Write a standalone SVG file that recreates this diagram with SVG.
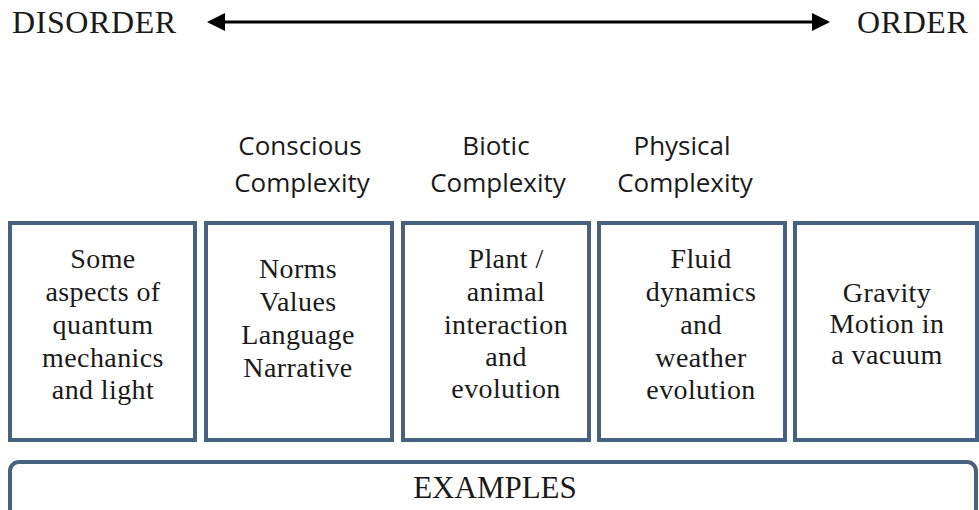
<svg xmlns="http://www.w3.org/2000/svg" width="979" height="510" viewBox="0 0 979 510">
<defs>
<style>
.bg{fill:#ffffff}
.box{fill:#ffffff;stroke:#46627f;stroke-width:4}
.t{font-family:"Liberation Serif","DejaVu Serif",serif;font-size:28px;letter-spacing:0.4px;fill:#1a1a1a;text-anchor:middle}
.title{font-family:"Liberation Serif","DejaVu Serif",serif;font-size:32px;letter-spacing:0.6px;fill:#1a1a1a}
.hdr{font-family:"Open Sans","Liberation Sans",sans-serif;font-size:26px;fill:#1a1a1a;text-anchor:middle}
.arrow{stroke:#000;stroke-width:3;fill:none}
</style>
<marker id="ah" markerWidth="6" markerHeight="6" refX="5" refY="3" orient="auto-start-reverse" markerUnits="strokeWidth">
<path d="M0,0 L6,3 L0,6 Z" fill="#000"/>
</marker>
</defs>
<rect class="bg" x="0" y="0" width="979" height="510"/>
<g id="disorder"><text class="title" x="12" y="33">DISORDER</text></g>
<g id="order"><text class="title" x="857" y="33">ORDER</text></g>
<g id="connectors">
<line class="arrow" x1="210" y1="22" x2="827" y2="22" marker-start="url(#ah)" marker-end="url(#ah)"/>
</g>
<g id="hdr-conscious"><text class="hdr" x="300" y="155">Conscious</text><text class="hdr" x="302" y="192">Complexity</text></g>
<g id="hdr-biotic"><text class="hdr" x="496" y="155">Biotic</text><text class="hdr" x="498" y="192">Complexity</text></g>
<g id="hdr-physical"><text class="hdr" x="682" y="155">Physical</text><text class="hdr" x="685" y="192">Complexity</text></g>
<g id="box-quantum">
<rect class="box" x="10" y="223" width="185" height="217"/>
<text class="t" x="103" y="268">Some</text>
<text class="t" x="103" y="301">aspects of</text>
<text class="t" x="103" y="334">quantum</text>
<text class="t" x="103" y="367">mechanics</text>
<text class="t" x="103" y="399">and light</text>
</g>
<g id="box-norms">
<rect class="box" x="206" y="223" width="186" height="217"/>
<text class="t" x="298" y="278">Norms</text>
<text class="t" x="298" y="311">Values</text>
<text class="t" x="298" y="344">Language</text>
<text class="t" x="298" y="377">Narrative</text>
</g>
<g id="box-plant">
<rect class="box" x="403" y="223" width="186" height="217"/>
<text class="t" x="506" y="268">Plant /</text>
<text class="t" x="506" y="301">animal</text>
<text class="t" x="506" y="334">interaction</text>
<text class="t" x="506" y="366">and</text>
<text class="t" x="506" y="398">evolution</text>
</g>
<g id="box-fluid">
<rect class="box" x="599" y="223" width="186" height="217"/>
<text class="t" x="701" y="268">Fluid</text>
<text class="t" x="701" y="301">dynamics</text>
<text class="t" x="701" y="334">and</text>
<text class="t" x="701" y="367">weather</text>
<text class="t" x="701" y="399">evolution</text>
</g>
<g id="box-gravity">
<rect class="box" x="795" y="223" width="182" height="217"/>
<text class="t" x="887" y="302">Gravity</text>
<text class="t" x="887" y="333">Motion in</text>
<text class="t" x="887" y="364">a vacuum</text>
</g>
<g id="examples">
<rect class="box" x="10" y="462" width="966" height="60" rx="9"/>
<text class="t" x="495" y="498" style="font-size:31px;letter-spacing:0">EXAMPLES</text>
</g>
</svg>
